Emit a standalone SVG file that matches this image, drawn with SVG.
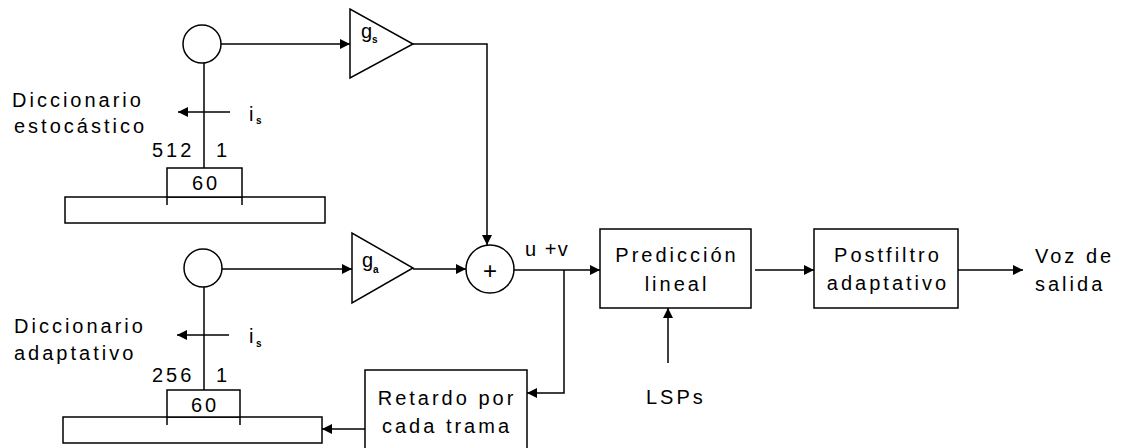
<svg xmlns="http://www.w3.org/2000/svg" width="1125" height="448" viewBox="0 0 1125 448">
<style>
.s{fill:none;stroke:#000;stroke-width:1.5}
.b{fill:#fff;stroke:#000;stroke-width:1.5}
.t{font-family:"Liberation Sans",Arial,sans-serif;font-size:20px;letter-spacing:3px;fill:#000}
.m{text-anchor:middle}
.g{font-family:"Liberation Sans",Arial,sans-serif;font-size:20px;fill:#000}
.sub{font-family:"Liberation Sans",Arial,sans-serif;font-size:10px;font-weight:bold;fill:#000}
</style>
<defs>
<marker id="ah" markerUnits="userSpaceOnUse" markerWidth="11" markerHeight="11" refX="10" refY="5" orient="auto">
<path d="M0,0 L10,5 L0,10 z" fill="#000"/>
</marker>
</defs>
<rect width="1125" height="448" fill="#fff"/>

<g id="dic-estocastico">
<circle class="b" cx="202" cy="44" r="19"/>
<line class="s" x1="204" y1="63" x2="204" y2="168"/>
<rect class="b" x="65" y="197" width="260" height="26"/>
<rect class="b" x="167" y="168" width="75" height="29"/>
<line class="s" x1="167" y1="197" x2="167" y2="205"/>
<line class="s" x1="242" y1="197" x2="242" y2="205"/>
<text class="t m" x="206" y="190">60</text>
<text class="t" x="152" y="157">512</text>
<text class="t" x="216" y="157">1</text>
<text class="t" x="12" y="107">Diccionario</text>
<text class="t" x="14" y="133">estocástico</text>
<text class="t" x="249" y="121" style="letter-spacing:0">i</text>
<text class="sub" x="256" y="124">s</text>
</g>

<g id="gain-s">
<polygon class="b" points="350,9 350,78 413,44"/>
<text class="g" x="361" y="38">g</text>
<text class="sub" x="372" y="43">s</text>
</g>

<g id="dic-adaptativo">
<circle class="b" cx="203" cy="268" r="19"/>
<line class="s" x1="204" y1="287" x2="204" y2="390"/>
<rect class="b" x="63" y="417" width="259" height="26"/>
<rect class="b" x="167" y="390" width="73" height="27"/>
<line class="s" x1="167" y1="417" x2="167" y2="425"/>
<line class="s" x1="240" y1="417" x2="240" y2="425"/>
<text class="t m" x="205" y="412">60</text>
<text class="t" x="152" y="382">256</text>
<text class="t" x="216" y="382">1</text>
<text class="t" x="14" y="333">Diccionario</text>
<text class="t" x="14" y="360">adaptativo</text>
<text class="t" x="249" y="343" style="letter-spacing:0">i</text>
<text class="sub" x="256" y="347">s</text>
</g>

<g id="gain-a">
<polygon class="b" points="352,233 352,303 413,268"/>
<text class="g" x="362" y="267">g</text>
<text class="sub" x="373" y="273">a</text>
</g>

<g id="sum">
<circle class="b" cx="490" cy="269" r="24"/>
<text class="t m" x="490" y="279" style="letter-spacing:0;font-size:24px">+</text>
<text class="t" x="525" y="256" style="letter-spacing:1.5px">u +v</text>
</g>

<g id="prediccion">
<rect class="b" x="600" y="229" width="151" height="79"/>
<text class="t m" x="677" y="262">Predicción</text>
<text class="t m" x="677" y="291">lineal</text>
</g>

<g id="postfiltro">
<rect class="b" x="814" y="229" width="144" height="79"/>
<text class="t m" x="888" y="262">Postfiltro</text>
<text class="t m" x="888" y="290">adaptativo</text>
</g>

<g id="salida">
<text class="t" x="1035" y="263">Voz de</text>
<text class="t" x="1035" y="291">salida</text>
</g>

<g id="lsps">
<text class="t" x="646" y="404">LSPs</text>
</g>

<g id="retardo">
<rect class="b" x="365" y="370" width="162" height="80"/>
<text class="t m" x="447" y="405">Retardo por</text>
<text class="t m" x="447" y="433">cada trama</text>
</g>

<g id="connectors">
<line class="s" x1="221" y1="44" x2="350" y2="44" marker-end="url(#ah)"/>
<polyline class="s" points="413,44 487,44 487,245" marker-end="url(#ah)"/>
<line class="s" x1="222" y1="269" x2="352" y2="269" marker-end="url(#ah)"/>
<line class="s" x1="413" y1="269" x2="466" y2="269" marker-end="url(#ah)"/>
<line class="s" x1="514" y1="270" x2="600" y2="270" marker-end="url(#ah)"/>
<polyline class="s" points="564,270 564,393 527,393" marker-end="url(#ah)"/>
<line class="s" x1="365" y1="429" x2="322" y2="429" marker-end="url(#ah)"/>
<line class="s" x1="755" y1="270" x2="814" y2="270" marker-end="url(#ah)"/>
<line class="s" x1="958" y1="270" x2="1023" y2="270" marker-end="url(#ah)"/>
<line class="s" x1="668" y1="363" x2="668" y2="308" marker-end="url(#ah)"/>
<line class="s" x1="230" y1="112" x2="178" y2="112" marker-end="url(#ah)"/>
<line class="s" x1="229" y1="335" x2="177" y2="335" marker-end="url(#ah)"/>
</g>
</svg>
